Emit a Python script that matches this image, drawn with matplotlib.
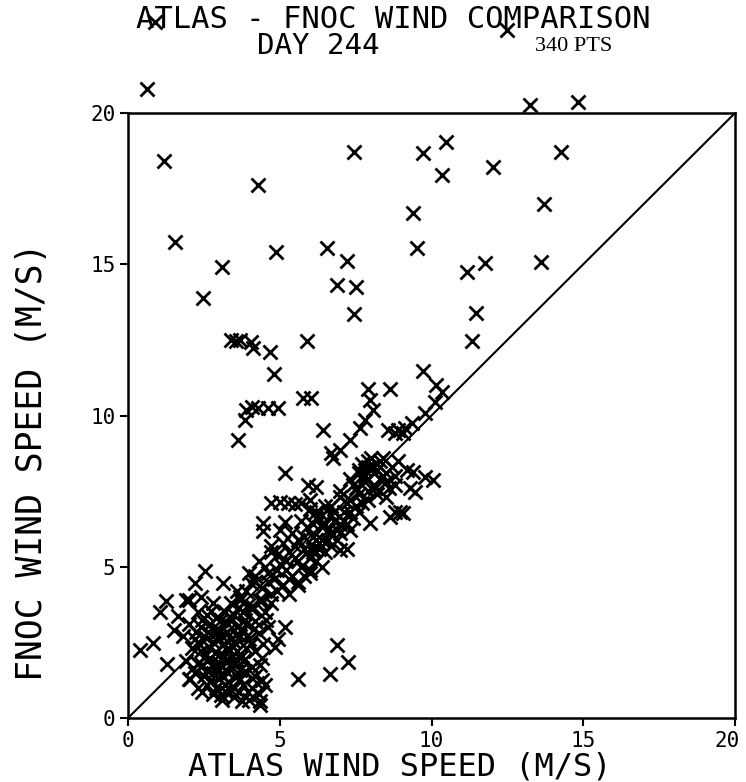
import numpy as np
import matplotlib.pyplot as plt
import matplotlib.transforms as mtransforms

# ---- data (ATLAS speed, FNOC speed) ----
# sparse points, upper part of the plot (some above the frame)
x_high = [0.63, 0.89, 12.49, 13.25, 14.83,
          1.19, 4.28, 7.45, 9.72, 9.39, 10.48, 14.27, 10.35, 12.03, 13.71,
          1.55, 4.88, 6.56, 9.52, 7.22, 3.10, 6.89, 7.51, 2.47, 7.45,
          11.76, 11.17, 13.61, 11.47, 11.33]
y_high = [20.79, 23.0, 22.74, 20.26, 20.36,
          18.41, 17.62, 18.71, 18.68, 16.69, 19.04, 18.71, 17.95, 18.21, 16.99,
          15.74, 15.40, 15.54, 15.54, 15.11, 14.91, 14.31, 14.25, 13.88, 13.36,
          15.04, 14.74, 15.07, 13.39, 12.46]

# middle band, 8 - 12.5 m/s
x_mid = [3.39, 3.56, 3.69, 4.05, 4.12, 4.68, 5.90, 4.81, 9.72, 10.15,
         10.35, 7.91, 8.63, 5.77, 6.03, 3.89, 4.09, 4.28, 4.61, 4.94,
         3.86, 3.62, 6.42, 10.10, 9.79, 9.36, 9.06, 8.90, 8.80, 8.57,
         9.13, 7.97, 8.07, 7.81, 7.64, 7.31, 6.99, 6.69, 6.75, 5.17,
         5.93, 6.19]
y_mid = [12.50, 12.46, 12.50, 12.43, 12.23, 12.10, 12.46, 11.37, 11.47, 11.00,
         10.78, 10.88, 10.88, 10.58, 10.58, 10.18, 10.28, 10.25, 10.25, 10.25,
         9.85, 9.19, 9.52, 10.45, 10.08, 9.75, 9.42, 9.52, 9.42, 9.52,
         9.59, 10.51, 10.18, 9.85, 9.59, 9.19, 8.86, 8.76, 8.60, 8.10,
         7.70, 7.64]

# 6 - 8.5 m/s, scattered around the line
x_low = [4.71, 5.00, 5.27, 5.50, 5.70, 4.45, 5.17, 4.71, 4.45,
         7.70, 7.90, 8.00, 8.20, 8.10, 7.80, 8.30, 7.60,
         9.20, 9.40, 9.80, 10.05, 9.46, 9.06, 8.14, 8.50, 8.80,
         8.96, 8.63, 7.97, 7.20, 6.98, 9.30, 8.40]
y_low = [7.11, 7.14, 7.11, 7.07, 7.11, 6.45, 6.48, 5.69, 6.18,
         8.40, 8.50, 8.30, 8.40, 8.10, 8.20, 8.50, 8.10,
         8.20, 8.13, 7.97, 7.87, 7.47, 6.78, 7.60, 7.30, 6.81,
         6.81, 6.64, 6.45, 5.60, 5.55, 7.60, 8.00]

# band along the diagonal, 3.5 - 9 m/s
x_band = [3.9, 4.2, 4.4, 4.6, 4.8, 4.5, 5.0, 5.2, 4.9, 5.3,
          5.5, 5.1, 5.6, 5.8, 5.4, 5.9, 6.1, 5.7, 6.2, 6.4,
          6.0, 6.5, 6.7, 4.3, 4.7, 5.0, 4.0, 3.7, 4.1, 4.4,
          4.9, 5.1, 5.4, 5.7, 6.0, 6.3, 6.6, 6.9, 7.1, 7.3,
          5.8, 6.0, 6.2, 6.4, 6.5, 6.7, 6.9, 6.6, 7.0, 7.2,
          7.4, 7.1, 7.5, 7.7, 7.6, 7.9, 8.1, 7.8, 8.3, 8.5,
          8.2, 8.7, 8.9, 8.6, 8.8, 7.3, 6.8, 6.3, 7.0, 7.4,
          7.8, 8.0, 6.2, 6.0, 4.94, 5.17, 4.84, 5.6, 5.3, 6.1,
          5.2, 5.5, 5.8, 6.1, 6.4, 6.7, 7.0, 7.3, 7.6, 6.1,
          6.4, 6.7, 7.0, 7.3, 7.6, 7.9, 8.2, 8.5, 8.8, 7.5,
          7.9, 8.4, 4.6, 4.9, 5.6, 5.9, 6.2, 6.5, 6.8, 7.2,
          4.7, 5.3, 5.6, 6.0]
y_band = [4.2, 4.5, 4.3, 4.8, 4.6, 5.0, 5.1, 4.9, 5.4, 5.5,
          5.3, 5.8, 5.9, 5.6, 6.1, 6.3, 6.0, 6.5, 6.6, 6.3,
          6.9, 7.0, 6.7, 5.2, 5.5, 6.2, 4.8, 4.0, 3.7, 3.9,
          4.2, 4.4, 4.7, 5.0, 5.3, 5.6, 5.9, 6.2, 6.5, 6.8,
          4.7, 4.9, 5.2, 5.0, 5.5, 5.7, 5.9, 6.2, 6.1, 6.4,
          6.6, 6.8, 7.0, 7.1, 7.4, 7.5, 7.7, 7.8, 7.9, 8.1,
          8.2, 8.3, 8.5, 7.6, 8.0, 7.2, 6.5, 5.8, 7.3, 7.7,
          8.0, 8.6, 6.8, 7.2, 2.6, 3.0, 2.35, 4.5, 4.1, 5.5,
          5.2, 5.7, 6.0, 6.4, 6.7, 7.0, 7.5, 7.9, 8.2, 5.6,
          5.9, 6.1, 6.4, 6.2, 6.8, 7.2, 7.4, 7.8, 7.7, 7.6,
          8.3, 8.6, 4.5, 4.9, 5.2, 5.5, 5.9, 6.4, 6.8, 7.1,
          4.1, 4.6, 4.4, 4.8]

# dense blob of light winds
x_blob = [3.1, 3.5, 4.0, 4.3, 2.8,
          2.3, 2.6, 2.9, 3.2, 3.5, 3.8, 4.1, 4.5, 2.0,
          2.2, 2.5, 2.8, 3.0, 3.3, 3.6, 3.9, 4.2,
          1.9, 2.3, 2.6, 2.9, 3.2, 3.5, 3.8, 4.1, 4.4,
          2.1, 2.4, 2.7, 3.0, 3.3, 3.6, 3.9, 4.2,
          1.8, 2.2, 2.5, 2.8, 3.1, 3.4, 3.7, 4.0, 4.3,
          2.0, 2.4, 2.7, 3.0, 3.3, 3.6, 3.9, 4.2, 4.6,
          2.3, 2.6, 2.9, 3.2, 3.5, 3.8, 4.1, 4.5,
          2.0, 2.8, 3.4, 3.7, 4.3, 4.7,
          3.0, 3.4, 2.7, 3.1, 3.5, 2.9, 3.3, 3.7, 3.2, 2.6, 3.8,
          0.40, 0.82, 1.30, 1.25, 2.55, 2.20, 3.13, 1.90, 1.65, 4.05,
          4.35, 4.40, 2.05, 1.05, 1.50, 2.40, 3.60, 4.20,
          2.45, 2.75, 3.05, 3.35, 3.65, 3.95, 4.25, 2.55, 2.85, 3.15,
          3.45, 3.75, 4.05, 2.35, 2.65, 2.95, 3.25, 3.55, 3.85, 4.15,
          2.45, 2.75, 3.05, 3.35, 3.65, 3.95, 3.05, 3.65, 4.35, 2.15,
          2.45, 3.85, 4.35, 4.45, 4.55, 2.25, 3.35, 3.75, 2.95, 3.55]
y_blob = [0.6, 0.7, 0.6, 0.8, 0.8,
          1.0, 1.1, 1.0, 1.1, 1.0, 1.1, 1.0, 1.1, 1.3,
          1.5, 1.4, 1.5, 1.3, 1.5, 1.4, 1.5, 1.4,
          1.9, 1.8, 1.9, 1.7, 1.9, 1.8, 1.9, 1.7, 2.0,
          2.3, 2.2, 2.3, 2.1, 2.3, 2.2, 2.3, 2.2,
          2.7, 2.6, 2.7, 2.5, 2.7, 2.6, 2.7, 2.6, 2.8,
          3.1, 3.0, 3.1, 2.9, 3.1, 3.0, 3.1, 3.2, 3.0,
          3.5, 3.4, 3.3, 3.5, 3.4, 3.5, 3.6, 3.5,
          3.9, 3.8, 3.8, 3.9, 3.9, 3.8,
          1.6, 2.0, 2.0, 2.4, 2.5, 2.8, 1.2, 1.6, 0.9, 1.6, 2.9,
          2.25, 2.48, 1.80, 3.87, 4.86, 4.46, 4.46, 3.90, 3.37, 4.46,
          0.43, 1.26, 1.30, 3.50, 2.90, 4.00, 4.20, 4.70,
          0.85, 1.25, 1.45, 1.75, 1.25, 0.85, 1.15, 2.05, 2.15, 2.05,
          2.35, 2.05, 2.45, 2.45, 2.85, 2.65, 2.85, 2.75, 3.25, 2.95,
          3.25, 3.55, 3.25, 3.35, 3.65, 3.75, 0.75, 0.85, 0.55, 1.65,
          1.75, 1.55, 1.75, 2.45, 3.25, 2.85, 0.95, 0.55, 1.85, 1.95]

# isolated points under the line
x_under = [5.60, 6.90, 7.25, 6.65]
y_under = [1.30, 2.40, 1.85, 1.45]

atlas = np.array(x_high + x_mid + x_low + x_band + x_blob + x_under)
fnoc = np.array(y_high + y_mid + y_low + y_band + y_blob + y_under)
npts = 340

ticks = [0, 5, 10, 15, 20]

# ---- plot ----
mono = "DejaVu Sans Mono"
fig = plt.figure(figsize=(7.46, 7.82), dpi=100)
ax = fig.add_axes([0.1716, 0.0818, 0.8137, 0.7737])

ax.plot([0, 20], [0, 20], color="black", lw=1.5)
ax.plot(atlas, fnoc, "x", color="black", ms=10, mew=2, clip_on=False)

ax.set_xlim(0, 20)
ax.set_ylim(0, 20)
ax.set_xticks(ticks)
ax.set_yticks(ticks)
ax.set_xticklabels([str(t) for t in ticks], fontsize=15, family=mono)
ax.set_yticklabels([str(t) for t in ticks], fontsize=15, family=mono)
ax.tick_params(direction="out", length=6, width=1.5, pad=3)
for s in ax.spines.values():
    s.set_linewidth(1.8)

# last x tick label sits at the figure edge, nudge it in a bit
last = ax.get_xticklabels()[-1]
last.set_transform(last.get_transform() +
                   mtransforms.ScaledTranslation(-6 / 72, 0, fig.dpi_scale_trans))

fig.text(0.527, 0.975, "ATLAS - FNOC WIND COMPARISON", ha="center", va="center",
         fontsize=22, family=mono)
fig.text(0.426, 0.941, "DAY 244", ha="center", va="center", fontsize=21, family=mono)
fig.text(0.717, 0.941, "%d PTS" % npts, ha="left", va="center", fontsize=16,
         family="Liberation Serif")
fig.text(0.536, 0.0, "ATLAS WIND SPEED (M/S)", ha="center", va="bottom",
         fontsize=23, family=mono)
fig.text(0.043, 0.41, "FNOC WIND SPEED (M/S)", ha="center", va="center",
         rotation=90, fontsize=25, family=mono)

fig.savefig("out.png", dpi=100)
